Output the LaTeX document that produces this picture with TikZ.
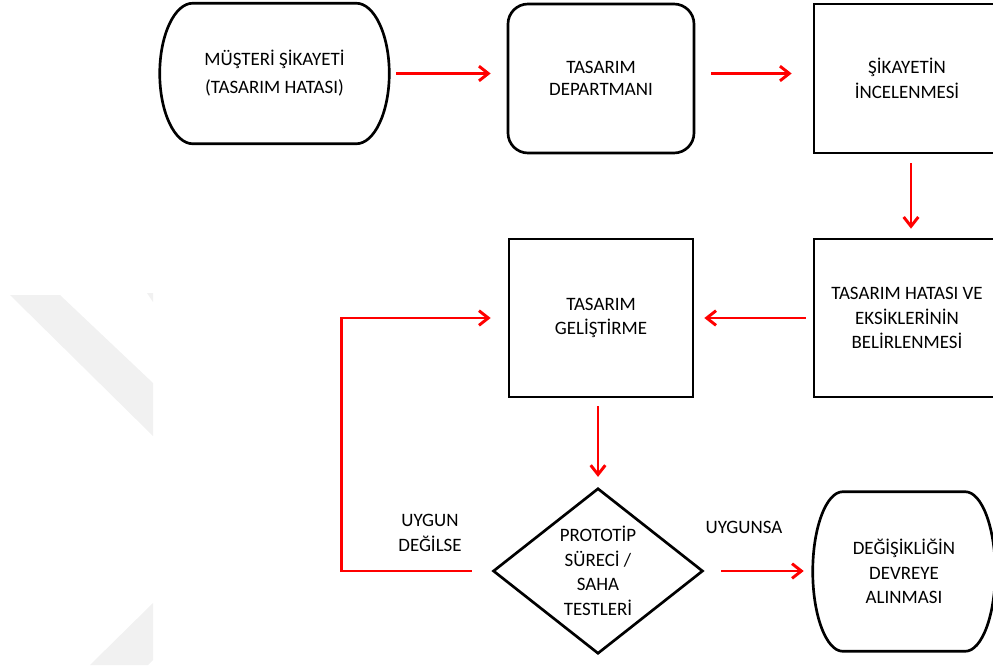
\documentclass[tikz,border=0pt]{standalone}
\usepackage{fontspec}
\setmainfont{Carlito}
\usetikzlibrary{arrows.meta,shapes.geometric}

% outline of a terminal shape round a named node: name, bulge, half height
\newcommand{\termline}[3]{%
  \draw[line width=2pt] ([shift={(#2,0)}]#1.north west) -- ([shift={(-#2,0)}]#1.north east)
    .. controls +(0.55*#2,0) and +(0,-0.55*#3) .. (#1.east)
    .. controls +(0,0.55*#3) and +(0.55*#2,0) .. ([shift={(-#2,0)}]#1.south east)
    -- ([shift={(#2,0)}]#1.south west)
    .. controls +(-0.55*#2,0) and +(0,0.55*#3) .. (#1.west)
    .. controls +(0,-0.55*#3) and +(-0.55*#2,0) .. cycle;}

\begin{document}
\begin{tikzpicture}[x=0.75pt,y=0.75pt,yscale=-1,xscale=1,
    txt/.style={align=center,inner sep=0pt,font=\fontsize{14.2}{18.4}\selectfont},
    box/.style={txt,draw,line width=2pt},
    term/.style={txt},
    flow/.style={draw=red,line width=2.2pt,-{Straight Barb[length=7pt,width=11pt]}}]
    \useasboundingbox (0,0) rectangle (993,668);

    % watermark
    \fill[gray!11] (10,295) -- (60,295) -- (153,383) -- (153,436) -- cycle;
    \fill[gray!11] (147,293) -- (153,293) -- (153,302) -- cycle;
    \fill[gray!11] (90,665) -- (153,603) -- (153,660) -- (148,665) -- cycle;

    % Shapes
    \node[term,minimum width=171.75pt,minimum height=105pt] (sikayet) at (274.5,73.5) {MÜŞTERİ ŞİKAYETİ\\[2.6pt](TASARIM HATASI)};
    \termline{sikayet}{33}{70}
    \node[box,rounded corners=15pt,minimum width=139.5pt,minimum height=111.75pt] (dept) at (601,78.5) {TASARIM\\[-2.2pt]DEPARTMANI};
    \node[box,minimum width=139.5pt,minimum height=111.75pt] (incele) at (907,78.5) {ŞİKAYETİN\\İNCELENMESİ};
    \node[box,minimum width=139.5pt,minimum height=118.5pt] (hata) at (907,318) {TASARIM HATASI VE\\EKSİKLERİNİN\\BELİRLENMESİ};
    \node[box,minimum width=138pt,minimum height=118.5pt] (gelis) at (601,318) {TASARIM\\GELİŞTİRME};
    \node[box,diamond,minimum width=157.5pt,minimum height=118.5pt] (test) at (598,571) {PROTOTİP\\SÜRECİ /\\SAHA\\TESTLERİ};
    \node[term,minimum width=136.5pt,minimum height=119.25pt] (devre) at (904,571.5) {DEĞİŞİKLİĞİN\\DEVREYE\\ALINMASI};
    \termline{devre}{30}{79.5}

    % Arrows
    \draw[flow,shorten <=5.25pt,shorten >=12pt] (sikayet.east) -- (dept.west |- sikayet.east);
    \draw[flow,shorten <=12pt,shorten >=15.75pt] (dept.east |- sikayet.east) -- (incele.west |- sikayet.east);
    \draw[flow,shorten <=6.75pt,shorten >=6.75pt] ([xshift=3pt]incele.south) -- ([xshift=3pt]hata.north);
    \draw[flow,shorten <=5.25pt,shorten >=7.5pt] (hata.west) -- (gelis.east);
    \draw[flow,shorten <=6pt,shorten >=7.5pt] (test.north |- gelis.south) -- (test.north);
    \draw[flow,shorten <=15pt,shorten >=12.75pt] (test.west) -- ++(-150,0) |- (gelis.west);
    \draw[flow,shorten <=12.75pt,shorten >=6.75pt] (test.east) -- (test.east -| devre.west);

    % Text Node
    \node[txt] (degil) at (430,533) {UYGUN\\DEĞİLSE};
    % Text Node
    \node[txt] (uygun) at (744,527) {UYGUNSA};
\end{tikzpicture}
\end{document}
